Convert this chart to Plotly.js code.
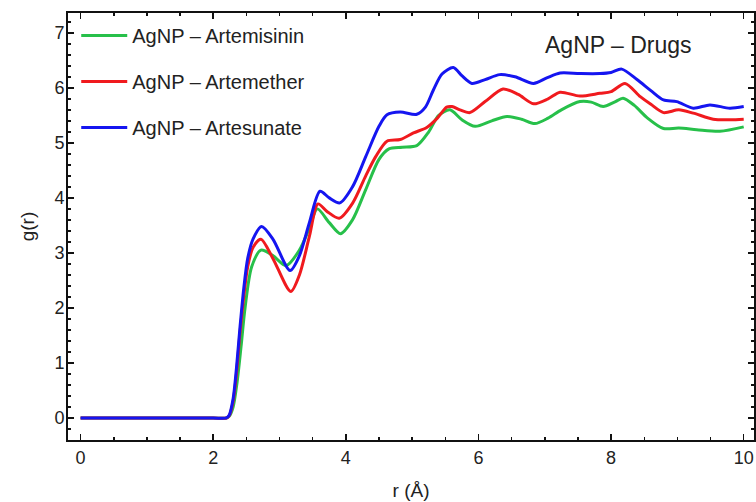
<!DOCTYPE html>
<html>
<head>
<meta charset="utf-8">
<script src="https://cdn.plot.ly/plotly-3.0.1.min.js"></script>
<style>html,body{margin:0;padding:0;background:#fff;}#chart{width:756px;height:502px;}</style>
</head>
<body>
<div id="chart"></div>
<script>
// Series names
const seriesNames = ["AgNP \u2013 Artemisinin", "AgNP \u2013 Artemether", "AgNP \u2013 Artesunate"];
const seriesColors = ["#27c04a", "#f01a1e", "#1515f0"];

// AgNP – Artemisinin
const rArtemisinin = [0, 0.7, 1.4, 2.0, 2.2, 2.24, 2.3, 2.36, 2.42, 2.48, 2.58, 2.72, 2.9, 3.1, 3.3, 3.45, 3.57, 3.75, 3.92, 4.1, 4.3, 4.5, 4.65, 4.85, 5.07, 5.25, 5.4, 5.57, 5.75, 5.95, 6.2, 6.43, 6.65, 6.85, 7.05, 7.25, 7.53, 7.7, 7.88, 8.05, 8.18, 8.35, 8.55, 8.79, 9.02, 9.29, 9.64, 10.0];
const gArtemisinin = [0, 0, 0, 0, 0, 0.03, 0.2, 0.65, 1.3, 2.0, 2.75, 3.05, 2.95, 2.77, 3.05, 3.45, 3.8, 3.55, 3.35, 3.6, 4.15, 4.7, 4.89, 4.92, 4.95, 5.2, 5.5, 5.6, 5.42, 5.3, 5.4, 5.48, 5.43, 5.35, 5.45, 5.6, 5.75, 5.74, 5.66, 5.74, 5.81, 5.68, 5.45, 5.26, 5.27, 5.24, 5.21, 5.29];

// AgNP – Artemether
const rArtemether = [0, 0.7, 1.4, 2.0, 2.2, 2.24, 2.3, 2.35, 2.4, 2.46, 2.52, 2.6, 2.72, 2.9, 3.17, 3.3, 3.45, 3.58, 3.72, 3.9, 4.1, 4.3, 4.45, 4.62, 4.82, 5.02, 5.22, 5.38, 5.52, 5.6, 5.72, 5.87, 6.1, 6.37, 6.6, 6.83, 7.05, 7.23, 7.53, 7.83, 8.0, 8.21, 8.44, 8.6, 8.79, 9.02, 9.24, 9.54, 9.8, 10.0];
const gArtemether = [0, 0, 0, 0, 0, 0.04, 0.3, 0.8, 1.5, 2.2, 2.75, 3.1, 3.25, 2.9, 2.3, 2.6, 3.3, 3.89, 3.75, 3.63, 3.9, 4.4, 4.75, 5.03, 5.06, 5.18, 5.28, 5.45, 5.65, 5.66, 5.6, 5.55, 5.75, 5.98, 5.88, 5.71, 5.8, 5.92, 5.85, 5.9, 5.93, 6.08, 5.84, 5.7, 5.55, 5.6, 5.54, 5.43, 5.42, 5.43];

// AgNP – Artesunate
const rArtesunate = [0, 0.7, 1.4, 2.0, 2.2, 2.24, 2.3, 2.35, 2.4, 2.46, 2.52, 2.6, 2.73, 2.9, 3.16, 3.3, 3.45, 3.61, 3.75, 3.91, 4.1, 4.3, 4.5, 4.62, 4.82, 5.07, 5.2, 5.32, 5.45, 5.62, 5.75, 5.9, 6.1, 6.32, 6.55, 6.83, 7.03, 7.23, 7.53, 7.83, 8.0, 8.16, 8.39, 8.6, 8.79, 8.99, 9.24, 9.49, 9.79, 10.0];
const gArtesunate = [0, 0, 0, 0, 0, 0.05, 0.35, 0.9, 1.6, 2.35, 2.9, 3.25, 3.48, 3.25, 2.68, 2.95, 3.55, 4.12, 4.0, 3.91, 4.2, 4.75, 5.3, 5.51, 5.56, 5.52, 5.65, 5.96, 6.25, 6.37, 6.22, 6.08, 6.15, 6.24, 6.2, 6.08, 6.18, 6.27, 6.26, 6.26, 6.28, 6.34, 6.15, 5.95, 5.78, 5.75, 5.63, 5.69, 5.63, 5.66];

const xTicks = [0, 2, 4, 6, 8, 10];
const yTicks = [0, 1, 2, 3, 4, 5, 6, 7];

const rs = [rArtemisinin, rArtemether, rArtesunate];
const gs = [gArtemisinin, gArtemether, gArtesunate];

const font = "Liberation Sans, Arial, Helvetica, sans-serif";

const traces = seriesNames.map((name, i) => ({
  type: "scatter",
  mode: "lines",
  name: name,
  legendgroup: "g" + i,
  x: rs[i],
  y: gs[i],
  line: {color: seriesColors[i], width: 3, shape: "spline", smoothing: 0.8}
}));

const axisCommon = {
  showline: true,
  linecolor: "#111",
  linewidth: 2,
  mirror: "ticks",
  ticks: "inside",
  ticklen: 6,
  tickwidth: 1.5,
  tickcolor: "#111",
  showgrid: false,
  zeroline: false,
  tickfont: {family: font, size: 18, color: "#222"}
};

const layout = {
  width: 756,
  height: 502,
  margin: {l: 68, r: 2, t: 13, b: 62},
  paper_bgcolor: "#fff",
  plot_bgcolor: "#fff",
  showlegend: true,
  legend: {
    x: 0.012, y: 0.993, xanchor: "left", yanchor: "top",
    bgcolor: "rgba(0,0,0,0)",
    font: {family: font, size: 20, color: "#222"},
    traceorder: "grouped",
    tracegroupgap: 17,
    itemwidth: 46
  },
  xaxis: Object.assign({}, axisCommon, {
    range: [-0.19, 10.155],
    tickvals: xTicks,
    ticktext: xTicks.map(String),
    minor: {dtick: 0.5, tick0: 0, ticks: "inside", ticklen: 3, tickwidth: 1.5, tickcolor: "#111", showgrid: false},
    title: {text: "r (Å)", font: {family: font, size: 19, color: "#222"}, standoff: 17}
  }),
  yaxis: Object.assign({}, axisCommon, {
    range: [-0.4, 7.36],
    tickvals: yTicks,
    ticktext: yTicks.map(String),
    ticklabelstandoff: -2,
    minor: {dtick: 0.2, tick0: 0, ticks: "inside", ticklen: 3, tickwidth: 1.5, tickcolor: "#111", showgrid: false},
    title: {text: "g(r)", font: {family: font, size: 19, color: "#222"}, standoff: 15}
  }),
  annotations: [{
    text: "AgNP \u2013 Drugs",
    xref: "paper", yref: "paper",
    x: 0.803, y: 0.925, xanchor: "center", yanchor: "middle",
    showarrow: false,
    font: {family: font, size: 23, color: "#222"}
  }]
};

Plotly.newPlot("chart", traces, layout, {displayModeBar: false, staticPlot: true});
</script>
</body>
</html>
